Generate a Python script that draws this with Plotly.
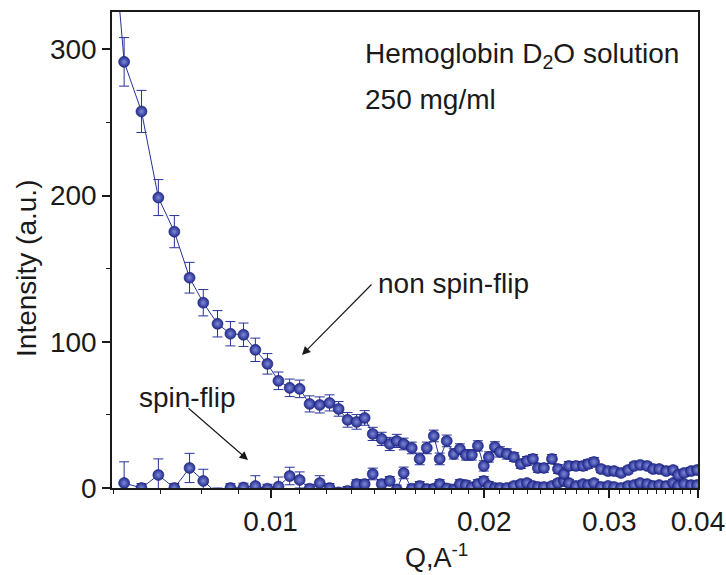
import plotly.graph_objects as go

# ---- data ----
q_nsf = [0.00605, 0.00622, 0.00658, 0.00695, 0.00732, 0.00769, 0.00804, 0.00842, 0.00878, 0.00916,
         0.00952, 0.00990, 0.01026, 0.01064, 0.01099, 0.01135, 0.01173, 0.01211, 0.01247, 0.01284,
         0.01322, 0.01357, 0.01393, 0.01434, 0.01472, 0.01506, 0.01540, 0.01581, 0.01622, 0.01660,
         0.01698, 0.01731, 0.01771, 0.01812, 0.01848, 0.01884, 0.01921, 0.01959, 0.01997, 0.02030,
         0.02070, 0.02104, 0.02152, 0.02202, 0.02252, 0.02297, 0.02342, 0.02380, 0.02427, 0.02491,
         0.02540, 0.02590, 0.02632, 0.02693, 0.02755, 0.02800, 0.02855, 0.02921, 0.02988, 0.03047,
         0.03117, 0.03189, 0.03252, 0.03316, 0.03392, 0.03459, 0.03527, 0.03608, 0.03690, 0.03750,
         0.03824, 0.03912, 0.03988]
i_nsf = [360.0, 291.4, 257.5, 198.6, 175.3, 143.8, 126.7, 112.3, 105.5, 104.8,
         94.5, 84.9, 73.3, 68.5, 67.8, 57.5, 56.8, 58.2, 54.1, 46.6,
         45.2, 47.9, 37.0, 33.6, 30.1, 32.2, 30.1, 27.4, 19.9, 27.4,
         35.6, 19.9, 32.2, 23.3, 26.7, 22.6, 22.6, 28.8, 15.1, 21.2,
         28.1, 24.7, 23.3, 21.2, 16.4, 18.5, 19.9, 13.7, 13.7, 19.9,
         13.0, 9.6, 15.1, 15.1, 15.1, 16.4, 17.8, 13.0, 11.6, 11.6,
         10.3, 12.3, 15.1, 15.8, 15.1, 13.0, 13.0, 11.6, 12.3, 8.9,
         10.3, 11.6, 12.3]
e_nsf = [18.0, 16.6, 14.4, 12.3, 11.0, 10.5, 9.0, 9.0, 8.3, 8.0,
         8.0, 7.0, 6.0, 6.0, 6.0, 5.5, 5.5, 5.5, 5.0, 5.0,
         5.0, 5.0, 4.5, 4.5, 4.5, 4.5, 4.0, 4.0, 4.0, 4.0,
         4.0, 4.0, 4.0, 3.5, 3.5, 3.5, 3.5, 3.5, 3.5, 3.5,
         3.5, 3.5, 3.5, 3.0, 3.0, 3.0, 3.0, 3.0, 3.0, 3.0,
         3.0, 3.0, 3.0, 3.0, 3.0, 3.0, 3.0, 2.5, 2.5, 2.5,
         2.5, 2.5, 2.5, 2.5, 2.5, 2.5, 2.5, 2.5, 2.5, 2.5,
         2.5, 2.5, 2.5]

q_sf = [0.00622, 0.00658, 0.00695, 0.00732, 0.00769, 0.00804, 0.00842, 0.00878, 0.00916, 0.00952,
        0.00990, 0.01026, 0.01064, 0.01099, 0.01135, 0.01173, 0.01211, 0.01247, 0.01284, 0.01322,
        0.01357, 0.01393, 0.01434, 0.01472, 0.01506, 0.01540, 0.01581, 0.01622, 0.01660, 0.01698,
        0.01731, 0.01771, 0.01812, 0.01848, 0.01884, 0.01921, 0.01959, 0.01997, 0.02030, 0.02070,
        0.02104, 0.02152, 0.02202, 0.02252, 0.02297, 0.02342, 0.02380, 0.02427, 0.02491, 0.02540,
        0.02590, 0.02632, 0.02693, 0.02755, 0.02800, 0.02855, 0.02921, 0.02988, 0.03047, 0.03117,
        0.03189, 0.03252, 0.03316, 0.03392, 0.03459, 0.03527, 0.03608, 0.03690, 0.03750, 0.03824,
        0.03912, 0.03988]
i_sf = [3.4, 0.0, 8.9, 0.0, 13.7, 4.8, -4.0, 0.0, 0.3, 1.4,
        -0.5, 1.0, 8.2, 5.5, -0.5, 3.4, 0.0, -3.0, -2.0, 2.7,
        2.7, 9.6, 2.7, 4.8, -1.0, 10.3, -0.5, 1.4, -0.7, -0.5,
        2.7, -0.3, -1.0, 2.7, 2.0, 0.5, 2.7, 4.8, 1.4, 0.0,
        0.0, 0.0, 1.4, 2.7, 3.4, 1.4, 0.7, 0.7, 1.4, 3.4,
        4.8, 3.4, 1.4, 2.7, 2.0, 3.4, 0.7, 1.4, 0.7, 0.0,
        1.4, 2.0, 3.4, 2.7, 1.4, 2.0, 1.4, 3.4, 1.4, 2.7,
        2.0, 2.0]
e_sf = [14.5, 3.0, 11.0, 3.0, 10.0, 8.0, 4.0, 3.0, 3.0, 7.0,
        3.0, 6.5, 6.0, 5.5, 3.0, 5.0, 3.0, 3.0, 3.0, 3.0,
        3.0, 4.0, 3.0, 3.0, 3.0, 4.0, 3.0, 3.0, 3.0, 3.0,
        3.0, 3.0, 3.0, 3.0, 3.0, 3.0, 3.0, 3.0, 3.0, 3.0,
        2.5, 2.5, 2.5, 2.5, 2.5, 2.5, 2.5, 2.5, 2.5, 2.5,
        2.5, 2.5, 2.5, 2.5, 2.5, 2.5, 2.5, 2.5, 2.5, 2.5,
        2.5, 2.5, 2.5, 2.5, 2.5, 2.5, 2.5, 2.5, 2.5, 2.5,
        2.5, 2.5]

x_ticks = [0.01, 0.02, 0.03, 0.04]
x_ticktext = ["0.01", "0.02", "0.03", "0.04"]
y_ticks = [0, 100, 200, 300]

BLUE = "#27329A"
FONT = "Liberation Sans, Arial, Helvetica, sans-serif"

def series(q, i, e):
    return go.Scatter(
        x=q, y=i, mode="lines+markers",
        line=dict(color=BLUE, width=1),
        marker=dict(size=11, color="#232c92",
                    gradient=dict(type="radial", color="#7f8ad6"),
                    line=dict(color="#1a1f72", width=0.6)),
        error_y=dict(type="data", array=e, visible=True, color=BLUE, thickness=1, width=5),
        showlegend=False, cliponaxis=True,
    )

fig = go.Figure()
fig.add_trace(series(q_sf, i_sf, e_sf))
fig.add_trace(series(q_nsf, i_nsf, e_nsf))

fig.update_layout(
    width=726, height=575,
    margin=dict(l=112, r=28, t=12, b=87, autoexpand=False),
    paper_bgcolor="white", plot_bgcolor="white",
    font=dict(family=FONT, size=28, color="#1a1a1a"),
)
fig.update_xaxes(
    type="log", range=[-2.2233, -1.3979], automargin=False,
    tickmode="array", tickvals=x_ticks, ticktext=x_ticktext,
    ticks="outside", ticklen=8, tickwidth=1.5, tickcolor="#1a1a1a",
    showline=True, linecolor="#1a1a1a", linewidth=1.5, mirror=True,
    showgrid=False, zeroline=False,
    tickfont=dict(size=28),
    minor=dict(ticks="outside", ticklen=4, tickwidth=1, tickcolor="#1a1a1a",
               dtick="L0.001", tick0=0.006, showgrid=False),
)
fig.update_yaxes(
    range=[0, 325.5], automargin=False,
    tickmode="array", tickvals=y_ticks,
    ticks="outside", ticklen=8, tickwidth=1.5, tickcolor="#1a1a1a",
    showline=True, linecolor="#1a1a1a", linewidth=1.5, mirror=True,
    showgrid=False, zeroline=False,
    tickfont=dict(size=28),
    minor=dict(ticks="outside", ticklen=4, tickwidth=1, tickcolor="#1a1a1a",
               dtick=50, showgrid=False),
)

ann = [
    dict(text="Intensity (a.u.)", xref="paper", yref="paper", x=-0.147, y=0.462,
         textangle=-90, showarrow=False, xanchor="center", yanchor="middle",
         font=dict(size=28)),
    dict(text="Q,A<sup>-1</sup>", xref="paper", yref="paper", x=0.553, y=-0.142,
         showarrow=False, xanchor="center", yanchor="middle", font=dict(size=27)),
    dict(text="Hemoglobin D<sub>2</sub>O solution", xref="paper", yref="paper",
         x=(363 - 112) / 586, y=(488 - 55) / 476, showarrow=False,
         xanchor="left", yanchor="middle", font=dict(size=28)),
    dict(text="250 mg/ml", xref="paper", yref="paper",
         x=(363 - 112) / 586, y=(488 - 99) / 476, showarrow=False,
         xanchor="left", yanchor="middle", font=dict(size=28)),
    dict(text="non spin-flip", xref="paper", yref="paper",
         x=(376 - 112) / 586, y=(488 - 283) / 476, showarrow=False,
         xanchor="left", yanchor="middle", font=dict(size=28)),
    dict(text="spin-flip", xref="paper", yref="paper",
         x=(137 - 112) / 586, y=(488 - 397) / 476, showarrow=False,
         xanchor="left", yanchor="middle", font=dict(size=28)),
    dict(text="", xref="paper", yref="paper", x=(302 - 112) / 586, y=(488 - 355) / 476,
         ax=71, ay=-72, showarrow=True, arrowhead=2, arrowsize=1.4, arrowwidth=1.2,
         arrowcolor="#1a1a1a"),
    dict(text="", xref="paper", yref="paper", x=(248 - 112) / 586, y=(488 - 460) / 476,
         ax=-61, ay=-53, showarrow=True, arrowhead=2, arrowsize=1.4, arrowwidth=1.2,
         arrowcolor="#1a1a1a"),
]
fig.update_layout(annotations=ann)

fig.write_html("out.html")
